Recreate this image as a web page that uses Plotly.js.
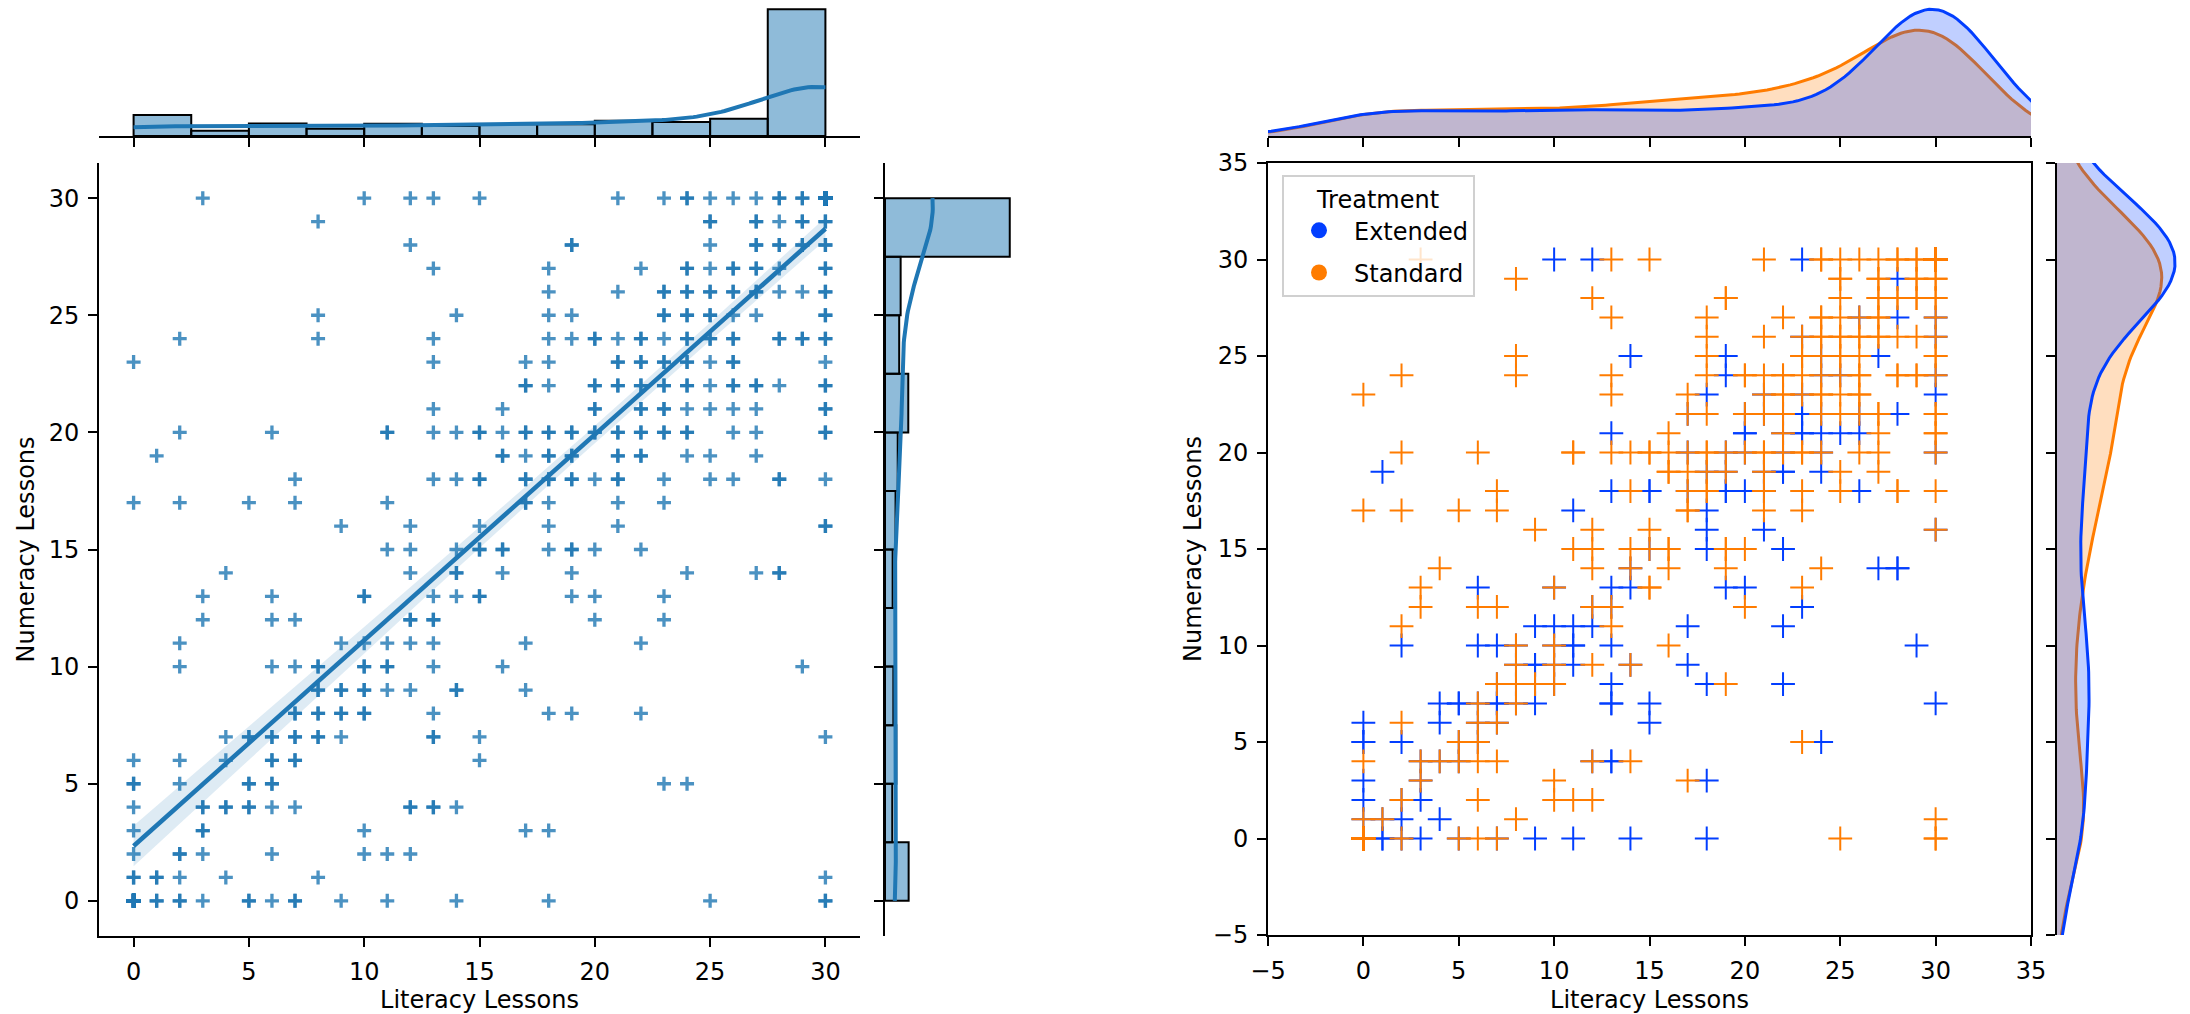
<!DOCTYPE html>
<html><head><meta charset="utf-8">
<script src="https://cdn.plot.ly/plotly-3.0.1.min.js"></script>
<style>html,body{margin:0;padding:0;background:#fff}</style>
</head><body><div id="chart" style="width:2190px;height:1014px"></div>
<script>
// ---- data: distinct (literacy, numeracy) positions, grouped by numeracy level,
// with the number of students of each treatment sitting on that position ----
const numeracyLevels = [30,29,28,27,26,25,24,23,22,21,20,19,18,17,16,15,14,13,12,11,10,9,8,7,6,5,4,3,2,1,0];
const literacyByLevel = [
 [3,10,12,13,15,21,23,24,25,26,27,28,29,30],
 [8,25,27,28,29,30],
 [12,19,25,27,28,29,30],
 [13,18,22,24,25,26,27,28,30],
 [18,21,23,24,25,26,27,28,29,30],
 [8,14,18,19,23,24,25,26,27,30],
 [2,8,13,18,19,20,21,22,23,24,25,26,28,29,30],
 [0,13,17,18,21,22,23,24,25,26,30],
 [17,18,20,21,22,23,24,25,26,27,28,30],
 [13,16,20,22,23,24,25,26,27,30],
 [2,6,11,13,14,15,16,17,18,19,20,21,22,23,24,26,27,30],
 [1,16,17,18,19,21,22,24,25,27],
 [7,13,14,15,17,18,19,20,21,23,25,26,28,30],
 [0,2,5,7,11,17,18,21,23],
 [9,12,15,18,21,30],
 [11,12,14,15,16,18,19,20,22],
 [4,12,14,16,19,24,27,28],
 [3,6,10,13,14,15,19,20,23],
 [3,6,7,12,13,20,23],
 [2,9,10,11,12,13,17,22],
 [2,6,7,8,10,11,13,16,29],
 [8,9,10,11,12,14,17],
 [7,8,9,10,13,18,19,22],
 [4,5,6,7,8,9,13,15,30],
 [0,2,4,6,7,15],
 [0,2,5,6,23,24],
 [0,3,4,5,6,7,12,13,14],
 [0,3,10,17,18],
 [0,2,3,6,10,11,12],
 [0,1,2,4,8,30],
 [0,1,2,3,5,6,7,9,11,14,18,25,30]
];
const extendedByLevel = [
 [0,1,1,0,0,0,1,0,0,0,0,0,0,195],
 [0,0,0,1,0,0],
 [0,0,0,0,0,0,0],
 [0,0,0,0,0,1,0,1,1],
 [0,0,1,0,0,0,0,0,0,1],
 [0,1,0,1,0,1,0,0,1,0],
 [0,0,0,0,1,0,0,0,0,1,1,0,0,0,1],
 [0,0,0,1,1,0,1,0,0,0,1],
 [1,0,1,1,1,2,1,0,1,0,1,0],
 [1,0,2,1,2,1,1,1,0,0],
 [0,0,0,0,0,0,0,1,0,1,1,0,1,0,1,0,0,1],
 [1,0,0,1,1,1,2,1,0,0],
 [0,1,0,2,1,0,2,1,1,0,0,1,0,0],
 [0,0,0,0,1,0,1,0,0],
 [0,0,0,1,1,1],
 [0,0,0,1,0,1,0,0,1],
 [0,0,1,0,0,0,1,2],
 [0,1,1,1,1,0,1,1,0],
 [0,0,0,1,1,0,1],
 [0,1,1,1,1,0,1,1],
 [1,1,1,1,1,2,1,0,1],
 [1,2,1,1,0,1,1],
 [1,1,1,1,1,1,0,1],
 [1,2,1,2,1,1,2,1,1],
 [1,0,1,1,1,1],
 [2,1,1,1,0,1],
 [0,1,1,1,0,0,1,2,0],
 [1,1,0,0,1],
 [1,1,1,0,0,0,0],
 [1,1,1,1,0,0],
 [15,2,1,1,1,0,1,1,1,1,1,0,0]
];
const standardByLevel = [
 [1,0,0,1,1,1,0,2,1,1,1,2,2,110],
 [1,2,2,0,2,2],
 [1,2,1,2,2,2,2],
 [1,1,1,2,1,1,2,0,1],
 [1,1,1,2,2,2,2,1,1,1],
 [1,0,1,0,2,1,2,1,0,2],
 [1,1,1,1,0,2,1,2,1,1,1,2,2,2,1],
 [1,1,1,0,1,2,1,2,1,2,0],
 [1,1,1,1,1,0,1,1,1,2,0,2],
 [0,1,0,1,0,0,0,0,1,2],
 [1,1,2,1,1,2,1,1,2,1,1,2,1,2,1,1,1,1],
 [0,2,1,1,1,1,0,0,1,1],
 [1,0,1,0,1,2,0,0,1,1,1,0,2,1],
 [1,1,1,1,0,2,0,1,1],
 [1,1,1,0,0,1],
 [1,1,1,1,2,0,2,1,0],
 [1,1,1,1,1,1,0,0],
 [1,0,1,0,0,2,0,0,1],
 [1,1,1,1,1,1,0],
 [1,0,0,0,0,1,0,0],
 [0,0,0,1,1,0,0,1,0],
 [1,0,1,0,1,1,0],
 [1,1,1,1,0,0,1,0],
 [0,0,1,0,1,0,0,0,0],
 [0,1,0,1,1,0],
 [0,0,1,1,1,0],
 [1,1,1,1,1,1,1,0,1],
 [0,1,1,1,0],
 [0,1,0,1,1,1,1],
 [1,1,0,0,1,1],
 [17,0,1,0,1,1,1,0,0,0,0,1,2]
];
const treatments = ['Extended', 'Standard'];
const treatmentColors = ['#023eff', '#ff7c00'];
const leftTicks = [0,5,10,15,20,25,30];
const rightTicks = [-5,0,5,10,15,20,25,30,35];
const xLabel = 'Literacy Lessons';
const yLabel = 'Numeracy Lessons';

// ---- expand into one record per student ----
const students = [];
numeracyLevels.forEach((y, i) => {
  const xs = literacyByLevel[i], es = extendedByLevel[i], ss = standardByLevel[i];
  xs.forEach((x, j) => {
    for (let k = 0; k < (es[j] || 0); k++) students.push({x, y, t: 'Extended'});
    for (let k = 0; k < (ss[j] || 0); k++) students.push({x, y, t: 'Standard'});
  });
});
const allX = students.map(s => s.x), allY = students.map(s => s.y);

// ---- statistics helpers ----
const mean = a => a.reduce((s, v) => s + v, 0) / a.length;
const sd = a => { const m = mean(a); return Math.sqrt(a.reduce((s, v) => s + (v - m) * (v - m), 0) / (a.length - 1)); };
const linspace = (a, b, n) => Array.from({length: n}, (_, i) => a + (b - a) * i / (n - 1));
function kde(vals, grid) {
  const n = vals.length, bw = sd(vals) * Math.pow(n, -0.2), c = 1 / (n * bw * Math.sqrt(2 * Math.PI));
  return grid.map(g => { let s = 0; for (const v of vals) { const z = (g - v) / bw; s += Math.exp(-0.5 * z * z); } return s * c; });
}
function bandwidth(vals) { return sd(vals) * Math.pow(vals.length, -0.2); }
function histogram(vals, lo, hi, w) {
  const nb = Math.round((hi - lo) / w), counts = new Array(nb).fill(0);
  vals.forEach(v => { let b = Math.floor((v - lo) / w); if (v === hi) b = nb - 1; if (b >= 0 && b < nb) counts[b]++; });
  return {centers: counts.map((_, i) => lo + w * (i + 0.5)), counts};
}

const W = 2190, H = 1014;
const px = v => v / W, py = v => 1 - v / H;
const font = {family: 'DejaVu Sans, sans-serif', size: 24, color: '#000'};
const axisBase = {showgrid: false, zeroline: false, showline: true, linecolor: '#000', linewidth: 2,
  ticks: 'outside', ticklen: 9, tickwidth: 2, tickcolor: '#000', tickfont: font, fixedrange: true};

const traces = [];
const blue = '#1f77b4';

// ---- left panel: scatter + regression ----
traces.push({type: 'scatter', mode: 'markers', x: allX, y: allY, xaxis: 'x', yaxis: 'y', showlegend: false,
  marker: {symbol: 'cross-thin', size: 10, color: blue, opacity: 0.8, line: {color: blue, width: 3.3}}, hoverinfo: 'skip'});
(function () {
  const n = allX.length, mx = mean(allX), my = mean(allY);
  let sxx = 0, sxy = 0; for (let i = 0; i < n; i++) { sxx += (allX[i] - mx) ** 2; sxy += (allX[i] - mx) * (allY[i] - my); }
  const b = sxy / sxx, a = my - b * mx;
  let sse = 0; for (let i = 0; i < n; i++) sse += (allY[i] - a - b * allX[i]) ** 2;
  const s = Math.sqrt(sse / (n - 2));
  const gx = linspace(Math.min(...allX), Math.max(...allX), 100);
  const yh = gx.map(x => a + b * x);
  const half = gx.map(x => 1.96 * s * Math.sqrt(1 / n + (x - mx) ** 2 / sxx));
  traces.push({type: 'scatter', mode: 'lines', x: gx, y: yh, xaxis: 'x', yaxis: 'y', showlegend: false,
    line: {color: blue, width: 4.5}, hoverinfo: 'skip'});
  traces.push({type: 'scatter', mode: 'lines', x: gx, y: yh.map((v, i) => v - half[i]), xaxis: 'x', yaxis: 'y',
    showlegend: false, line: {width: 0, color: 'rgba(0,0,0,0)'}, hoverinfo: 'skip'});
  traces.push({type: 'scatter', mode: 'lines', x: gx, y: yh.map((v, i) => v + half[i]), xaxis: 'x', yaxis: 'y',
    showlegend: false, line: {width: 0, color: 'rgba(0,0,0,0)'}, fill: 'tonexty', fillcolor: 'rgba(31,119,180,0.15)', hoverinfo: 'skip'});
})();

// ---- left panel marginals: histograms + scaled KDE ----
const hx = histogram(allX, 0, 30, 2.5), hy = histogram(allY, 0, 30, 2.5);
traces.push({type: 'bar', x: hx.centers, y: hx.counts, width: 2.5, xaxis: 'x2', yaxis: 'y2', showlegend: false,
  marker: {color: 'rgba(31,119,180,0.5)', line: {color: '#000', width: 2}}, hoverinfo: 'skip'});
traces.push({type: 'bar', orientation: 'h', y: hy.centers, x: hy.counts, width: 2.5, xaxis: 'x3', yaxis: 'y3', showlegend: false,
  marker: {color: 'rgba(31,119,180,0.5)', line: {color: '#000', width: 2}}, hoverinfo: 'skip'});
const gxl = linspace(Math.min(...allX), Math.max(...allX), 200);
const gyl = linspace(Math.min(...allY), Math.max(...allY), 200);
const kxl = kde(allX, gxl).map(d => d * allX.length * 2.5);
const kyl = kde(allY, gyl).map(d => d * allY.length * 2.5);
traces.push({type: 'scatter', mode: 'lines', x: gxl, y: kxl, xaxis: 'x2', yaxis: 'y2', showlegend: false, line: {color: blue, width: 4}, hoverinfo: 'skip'});
traces.push({type: 'scatter', mode: 'lines', x: kyl, y: gyl, xaxis: 'x3', yaxis: 'y3', showlegend: false, line: {color: blue, width: 4}, hoverinfo: 'skip'});
const maxCountX = Math.max(...hx.counts), maxCountY = Math.max(...hy.counts);

// ---- right panel: scatter by treatment ----
treatments.forEach((t, i) => {
  const g = students.filter(s => s.t === t);
  traces.push({type: 'scatter', mode: 'markers', x: g.map(s => s.x), y: g.map(s => s.y), xaxis: 'x4', yaxis: 'y4', showlegend: false,
    marker: {symbol: 'cross-thin', size: 17, color: treatmentColors[i], opacity: 1, line: {color: treatmentColors[i], width: 2}}, hoverinfo: 'skip'});
});
// ---- right panel marginals: KDE per treatment (common normalisation) ----
let maxDX = 0, maxDY = 0;
const kdeTraces = [];
treatments.forEach((t, i) => {
  const g = students.filter(s => s.t === t), frac = g.length / students.length;
  const vx = g.map(s => s.x), vy = g.map(s => s.y);
  const bx = bandwidth(vx), by = bandwidth(vy);
  const gx = linspace(Math.min(...vx) - 3 * bx, Math.max(...vx) + 3 * bx, 200);
  const gy = linspace(Math.min(...vy) - 3 * by, Math.max(...vy) + 3 * by, 200);
  const dx = kde(vx, gx).map(d => d * frac), dy = kde(vy, gy).map(d => d * frac);
  gx.forEach((x, k) => { if (x >= -5 && x <= 35) maxDX = Math.max(maxDX, dx[k]); });
  gy.forEach((y, k) => { if (y >= -5 && y <= 35) maxDY = Math.max(maxDY, dy[k]); });
  const rgb = i === 0 ? '2,62,255' : '255,124,0';
  kdeTraces[i] = [
    {type: 'scatter', mode: 'lines', x: gx, y: dx, xaxis: 'x5', yaxis: 'y5', showlegend: false, fill: 'tozeroy',
      fillcolor: 'rgba(' + rgb + ',0.25)', line: {color: treatmentColors[i], width: 3}, hoverinfo: 'skip'},
    {type: 'scatter', mode: 'lines', x: dy, y: gy, xaxis: 'x6', yaxis: 'y6', showlegend: false, fill: 'tozerox',
      fillcolor: 'rgba(' + rgb + ',0.25)', line: {color: treatmentColors[i], width: 3}, hoverinfo: 'skip'}
  ];
});
// orange drawn first, blue on top
traces.push(kdeTraces[1][0], kdeTraces[0][0], kdeTraces[1][1], kdeTraces[0][1]);
// legend entries (circle swatches)
treatments.forEach((t, i) => traces.push({type: 'scatter', mode: 'markers', x: [null], y: [null], xaxis: 'x4', yaxis: 'y4',
  name: t, legendgroup: t, showlegend: true, marker: {symbol: 'circle', size: 17, color: treatmentColors[i]}}));

const layout = {
  width: W, height: H, margin: {l: 0, r: 0, t: 0, b: 0}, paper_bgcolor: '#fff', plot_bgcolor: 'rgba(0,0,0,0)',
  font: font, showlegend: true, barmode: 'overlay', hovermode: false,
  xaxis: Object.assign({}, axisBase, {domain: [px(99), px(860)], range: [-1.5, 31.5], tickvals: leftTicks, anchor: 'y',
    ticklabelstandoff: 4, title: {text: xLabel, font: font, standoff: 12}}),
  yaxis: Object.assign({}, axisBase, {domain: [py(936), py(163)], range: [-1.5, 31.5], tickvals: leftTicks, anchor: 'x',
    ticklabelstandoff: 4, title: {text: yLabel, font: font, standoff: 7}}),
  xaxis2: Object.assign({}, axisBase, {domain: [px(99), px(860)], range: [-1.5, 31.5], tickvals: leftTicks, showticklabels: false, anchor: 'y2'}),
  yaxis2: {domain: [py(136), py(3)], range: [0, maxCountX * 1.05], visible: false, anchor: 'x2', fixedrange: true},
  xaxis3: {domain: [px(885), px(1016)], range: [0, maxCountY * 1.05], visible: false, anchor: 'y3', fixedrange: true},
  yaxis3: Object.assign({}, axisBase, {domain: [py(936), py(163)], range: [-1.5, 31.5], tickvals: leftTicks, showticklabels: false, anchor: 'x3'}),
  xaxis4: Object.assign({}, axisBase, {domain: [px(1268), px(2031)], range: [-5, 35], tickvals: rightTicks, mirror: true, anchor: 'y4',
    ticklabelstandoff: 4, title: {text: xLabel, font: font, standoff: 12}}),
  yaxis4: Object.assign({}, axisBase, {domain: [py(935), py(163)], range: [-5, 35], tickvals: rightTicks, mirror: true, anchor: 'x4',
    ticklabelstandoff: 4, title: {text: yLabel, font: font, standoff: 4}}),
  xaxis5: Object.assign({}, axisBase, {domain: [px(1268), px(2031)], range: [-5, 35], tickvals: rightTicks, showticklabels: false, anchor: 'y5'}),
  yaxis5: {domain: [py(136), py(3)], range: [0, maxDX * 1.05], visible: false, anchor: 'x5', fixedrange: true},
  xaxis6: {domain: [px(2057), px(2181)], range: [0, maxDY * 1.05], visible: false, anchor: 'y6', fixedrange: true},
  yaxis6: Object.assign({}, axisBase, {domain: [py(935), py(163)], range: [-5, 35], tickvals: rightTicks, showticklabels: false, anchor: 'x6'}),
  legend: {x: px(1282), y: py(175), xanchor: 'left', yanchor: 'top', bgcolor: 'rgba(255,255,255,0.8)',
    bordercolor: '#d0d0d0', borderwidth: 2, font: font, traceorder: 'grouped', tracegroupgap: 8, itemwidth: 60,
    title: {text: 'Treatment', side: 'top center', font: font}}
};
Plotly.newPlot('chart', traces, layout, {displayModeBar: false, staticPlot: true});
</script></body></html>
